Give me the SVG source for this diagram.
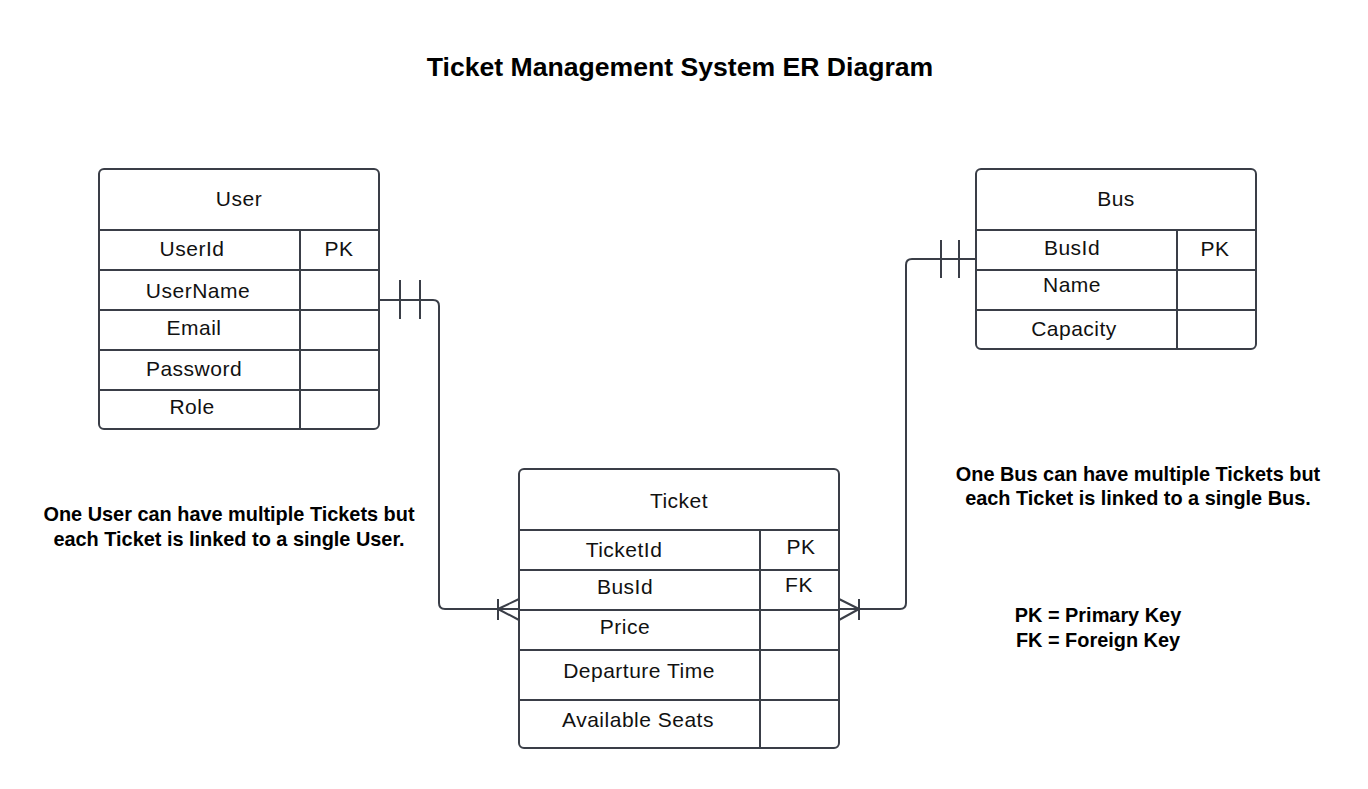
<svg xmlns="http://www.w3.org/2000/svg" width="1368" height="789" viewBox="0 0 1368 789">
  <style>
    .box { fill: #ffffff; stroke: #3a3e47; stroke-width: 2; }
    .rule { stroke: #3a3e47; stroke-width: 2; fill: none; }
    .link { stroke: #3a3e47; stroke-width: 2; fill: none; stroke-linejoin: round; }
    .cell { font-family: "Liberation Sans", Arial, sans-serif; font-size: 21px; letter-spacing: 0.5px; fill: #111111; text-anchor: middle; }
    .note { font-family: "Liberation Sans", Arial, sans-serif; font-size: 19.9px; font-weight: bold; fill: #000000; text-anchor: middle; }
    .title { font-family: "Liberation Sans", Arial, sans-serif; font-size: 26.6px; font-weight: bold; fill: #000000; text-anchor: middle; }
  </style>

  <rect width="1368" height="789" fill="#ffffff"/>

  <text class="title" x="680" y="76">Ticket Management System ER Diagram</text>

  <!-- relationship lines -->
  <g id="connectors">
    <!-- User (one) to Ticket (many) -->
    <path class="link" d="M379,300 H433 Q439,300 439,306 V603 Q439,609 445,609 H519"/>
    <line class="rule" x1="400" y1="280" x2="400" y2="319"/>
    <line class="rule" x1="420" y1="280" x2="420" y2="319"/>
    <line class="rule" x1="498" y1="599" x2="498" y2="620"/>
    <path class="link" d="M519,599 L498,609 L519,620"/>
    <!-- Bus (one) to Ticket (many) -->
    <path class="link" d="M839,609 H900 Q906,609 906,603 V265 Q906,259 912,259 H976"/>
    <line class="rule" x1="941" y1="240" x2="941" y2="278"/>
    <line class="rule" x1="959" y1="240" x2="959" y2="278"/>
    <line class="rule" x1="859" y1="599" x2="859" y2="620"/>
    <path class="link" d="M839,599 L859,609 L839,620"/>
  </g>

  <g id="user">
    <rect class="box" x="99" y="169" width="280" height="260" rx="5"/>
    <line class="rule" x1="99" y1="230" x2="379" y2="230"/>
    <line class="rule" x1="99" y1="270" x2="379" y2="270"/>
    <line class="rule" x1="99" y1="310" x2="379" y2="310"/>
    <line class="rule" x1="99" y1="350" x2="379" y2="350"/>
    <line class="rule" x1="99" y1="390" x2="379" y2="390"/>
    <line class="rule" x1="300" y1="230" x2="300" y2="429"/>
    <text class="cell" x="239" y="205.5">User</text>
    <text class="cell" x="192" y="255.5">UserId</text>
    <text class="cell" x="339" y="256">PK</text>
    <text class="cell" x="198" y="298">UserName</text>
    <text class="cell" x="194" y="335">Email</text>
    <text class="cell" x="194" y="376">Password</text>
    <text class="cell" x="192" y="414">Role</text>
  </g>

  <g id="bus">
    <rect class="box" x="976" y="169" width="280" height="180" rx="5"/>
    <line class="rule" x1="976" y1="230" x2="1256" y2="230"/>
    <line class="rule" x1="976" y1="270" x2="1256" y2="270"/>
    <line class="rule" x1="976" y1="310" x2="1256" y2="310"/>
    <line class="rule" x1="1177" y1="230" x2="1177" y2="349"/>
    <text class="cell" x="1116" y="205.5">Bus</text>
    <text class="cell" x="1072" y="254.5">BusId</text>
    <text class="cell" x="1215" y="256">PK</text>
    <text class="cell" x="1072" y="292">Name</text>
    <text class="cell" x="1074" y="336">Capacity</text>
  </g>

  <g id="ticket">
    <rect class="box" x="519" y="469" width="320" height="279" rx="5"/>
    <line class="rule" x1="519" y1="530" x2="839" y2="530"/>
    <line class="rule" x1="519" y1="570" x2="839" y2="570"/>
    <line class="rule" x1="519" y1="610" x2="839" y2="610"/>
    <line class="rule" x1="519" y1="650" x2="839" y2="650"/>
    <line class="rule" x1="519" y1="700" x2="839" y2="700"/>
    <line class="rule" x1="760" y1="530" x2="760" y2="748"/>
    <text class="cell" x="679" y="508">Ticket</text>
    <text class="cell" x="624" y="557">TicketId</text>
    <text class="cell" x="801" y="554">PK</text>
    <text class="cell" x="625" y="594">BusId</text>
    <text class="cell" x="799" y="592">FK</text>
    <text class="cell" x="625" y="634">Price</text>
    <text class="cell" x="639" y="678">Departure Time</text>
    <text class="cell" x="638" y="727">Available Seats</text>
  </g>

  <g id="notes">
    <text class="note" x="229" y="521">One User can have multiple Tickets but</text>
    <text class="note" x="229" y="546">each Ticket is linked to a single User.</text>
    <text class="note" x="1138" y="481">One Bus can have multiple Tickets but</text>
    <text class="note" x="1138" y="505">each Ticket is linked to a single Bus.</text>
    <text class="note" x="1098" y="622">PK = Primary Key</text>
    <text class="note" x="1098" y="647">FK = Foreign Key</text>
  </g>
</svg>
